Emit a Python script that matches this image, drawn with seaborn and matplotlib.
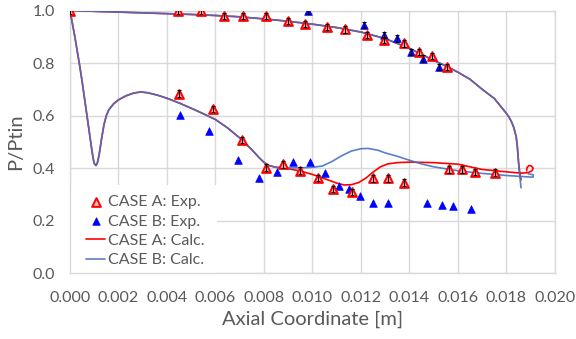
import numpy as np
import pandas as pd
import matplotlib
matplotlib.use("Agg")
import matplotlib.pyplot as plt
from matplotlib.patches import Rectangle
import seaborn as sns

# ---------------- data ----------------
expA_x = [0.0, 0.00447, 0.0054, 0.00636, 0.00715, 0.00808, 0.00898, 0.0097, 0.01059, 0.01134,
          0.01223, 0.01295, 0.01377, 0.0144, 0.01491, 0.01556,
          0.00451, 0.00591, 0.00709, 0.00808, 0.0088, 0.0095, 0.01024, 0.01086, 0.01164,
          0.01248, 0.0131, 0.01377, 0.01564, 0.01615, 0.0167, 0.01753]
expA_y = [1.0, 1.0, 0.997, 0.98, 0.98, 0.978, 0.96, 0.948, 0.937, 0.928,
          0.906, 0.887, 0.875, 0.843, 0.826, 0.786,
          0.684, 0.624, 0.507, 0.402, 0.414, 0.391, 0.363, 0.321, 0.31,
          0.361, 0.361, 0.345, 0.395, 0.395, 0.386, 0.383]

expB_x = [0.00983, 0.01212, 0.01295, 0.01347, 0.01405, 0.01457, 0.01523,
          0.00452, 0.00575, 0.00693, 0.00781, 0.00852, 0.00918, 0.00988, 0.01052, 0.01111,
          0.01152, 0.01196, 0.01248, 0.01313, 0.01471, 0.01535, 0.01578, 0.01652]
expB_y = [0.998, 0.944, 0.906, 0.894, 0.843, 0.817, 0.786,
          0.602, 0.543, 0.431, 0.361, 0.386, 0.424, 0.424, 0.383, 0.332,
          0.32, 0.294, 0.268, 0.268, 0.268, 0.26, 0.256, 0.243]

# calculated wall-pressure contours (upper branch right->left, then lower branch left->right)
calcA_x = [0.0186, 0.01855, 0.0185, 0.01845, 0.0184, 0.0183, 0.0182, 0.0181, 0.018, 0.0175,
           0.017, 0.0165, 0.016, 0.0155, 0.015, 0.014, 0.013, 0.012, 0.011, 0.010, 0.009,
           0.008, 0.007, 0.006, 0.005, 0.004, 0.003, 0.002, 0.001, 0.0,
           0.0001, 0.0002, 0.0003, 0.0004, 0.0005, 0.0006, 0.0007, 0.0008, 0.0009, 0.00095,
           0.001, 0.00107, 0.00113, 0.0012, 0.0013, 0.0014, 0.0015, 0.0016, 0.0018, 0.002,
           0.0023, 0.0026, 0.0029, 0.0032, 0.0036, 0.004, 0.0045, 0.005, 0.0055, 0.006,
           0.0065, 0.007, 0.0075, 0.0078, 0.008, 0.0082, 0.0085, 0.0087,
           0.009, 0.0095, 0.010, 0.0105, 0.011, 0.0113, 0.0116, 0.0119, 0.0122, 0.0125,
           0.0128, 0.0131, 0.0135, 0.014, 0.015, 0.016, 0.0165, 0.017, 0.018, 0.0186,
           0.0189, 0.01905, 0.0191, 0.01903, 0.01893, 0.01885, 0.01883]
calcA_y = [0.355, 0.38, 0.42, 0.48, 0.52, 0.555, 0.578, 0.595, 0.608, 0.665,
           0.70, 0.738, 0.765, 0.789, 0.81, 0.856, 0.893, 0.918, 0.935, 0.948, 0.959,
           0.968, 0.976, 0.981, 0.985, 0.988, 0.991, 0.994, 0.997, 1.0,
           0.95, 0.90, 0.845, 0.79, 0.73, 0.665, 0.60, 0.535, 0.47, 0.44,
           0.418, 0.41, 0.42, 0.45, 0.51, 0.565, 0.60, 0.622, 0.645, 0.66,
           0.675, 0.685, 0.69, 0.687, 0.678, 0.666, 0.648, 0.628, 0.607, 0.585,
           0.553, 0.515, 0.47, 0.44, 0.422, 0.41, 0.403, 0.402,
           0.398, 0.389, 0.376, 0.36, 0.343, 0.336, 0.337, 0.345, 0.362, 0.385,
           0.405, 0.416, 0.421, 0.423, 0.421, 0.415, 0.405, 0.395, 0.386, 0.381,
           0.383, 0.39, 0.40, 0.408, 0.41, 0.403, 0.39]

calcB_x = [0.0186, 0.01855, 0.0185, 0.01845, 0.0184, 0.0183, 0.0182, 0.0181, 0.018, 0.0175,
           0.017, 0.0165, 0.016, 0.0155, 0.015, 0.014, 0.013, 0.012, 0.011, 0.010, 0.009,
           0.008, 0.007, 0.006, 0.005, 0.004, 0.003, 0.002, 0.001, 0.0,
           0.0001, 0.0002, 0.0003, 0.0004, 0.0005, 0.0006, 0.0007, 0.0008, 0.0009, 0.00095,
           0.001, 0.00107, 0.00113, 0.0012, 0.0013, 0.0014, 0.0015, 0.0016, 0.0018, 0.002,
           0.0023, 0.0026, 0.0029, 0.0032, 0.0036, 0.004, 0.0045, 0.005, 0.0055, 0.006,
           0.0065, 0.007, 0.0075, 0.0078, 0.008, 0.0082, 0.0085, 0.0087,
           0.009, 0.0095, 0.010, 0.0104, 0.0108, 0.0112, 0.0116, 0.012, 0.0123, 0.0127,
           0.013, 0.0135, 0.014, 0.0145, 0.015, 0.016, 0.017, 0.018, 0.019, 0.0191,
           0.0191, 0.0189]
calcB_y = [0.325, 0.37, 0.42, 0.48, 0.52, 0.555, 0.578, 0.595, 0.608, 0.665,
           0.70, 0.738, 0.765, 0.789, 0.81, 0.856, 0.893, 0.918, 0.935, 0.948, 0.959,
           0.968, 0.976, 0.981, 0.985, 0.988, 0.991, 0.994, 0.997, 1.0,
           0.95, 0.90, 0.845, 0.79, 0.73, 0.665, 0.60, 0.535, 0.47, 0.44,
           0.418, 0.41, 0.42, 0.45, 0.51, 0.565, 0.60, 0.622, 0.645, 0.66,
           0.675, 0.685, 0.69, 0.687, 0.678, 0.666, 0.648, 0.628, 0.607, 0.585,
           0.553, 0.515, 0.47, 0.44, 0.422, 0.41, 0.403, 0.402,
           0.401, 0.401, 0.403, 0.408, 0.425, 0.447, 0.465, 0.474, 0.475, 0.468,
           0.458, 0.445, 0.43, 0.416, 0.405, 0.39, 0.38, 0.372, 0.366, 0.366,
           0.375, 0.378]

x_ticks = [0.000, 0.002, 0.004, 0.006, 0.008, 0.010, 0.012, 0.014, 0.016, 0.018, 0.020]
y_ticks = [0.0, 0.2, 0.4, 0.6, 0.8, 1.0]
labels = ["CASE A: Exp.", "CASE B: Exp.", "CASE A: Calc.", "CASE B: Calc."]

# ---------------- style ----------------
sns.set_style("white")
plt.rcParams["font.family"] = ["Lato", "DejaVu Sans"]
TXT = "#595959"
GRID = "#d9d9d9"

fig = plt.figure(figsize=(5.76, 3.39), dpi=100)
ax = fig.add_axes([0.1215, 0.194, 0.842, 0.775])

dfA = pd.DataFrame({"x": calcA_x, "y": calcA_y})
dfB = pd.DataFrame({"x": calcB_x, "y": calcB_y})
sns.lineplot(data=dfA, x="x", y="y", sort=False, estimator=None, color="#ff0000",
             lw=1.2, ax=ax, label=labels[2], zorder=3)
sns.lineplot(data=dfB, x="x", y="y", sort=False, estimator=None, color="#4472c4",
             lw=1.2, ax=ax, label=labels[3], zorder=3, alpha=0.9)

eA = pd.DataFrame({"x": expA_x, "y": expA_y})
eB = pd.DataFrame({"x": expB_x, "y": expB_y})
sns.scatterplot(data=eB, x="x", y="y", marker="^", s=30, color="#0000ff", edgecolor="#0000ff",
                linewidth=0.5, ax=ax, label=labels[1], zorder=4)
sns.scatterplot(data=eA, x="x", y="y", marker="^", s=40, facecolor="#ffb3b3", edgecolor="#ff0000",
                linewidth=1.4, ax=ax, label=labels[0], zorder=5)

# small black error bars on experimental points
ax.errorbar(expA_x, expA_y, yerr=0.012, fmt="none", ecolor="black", elinewidth=0.8,
            capsize=1.5, capthick=0.8, zorder=6)
bu = eB[eB["y"] > 0.7]
ax.errorbar(bu["x"], bu["y"], yerr=0.012, fmt="none", ecolor="black", elinewidth=0.8,
            capsize=1.5, capthick=0.8, zorder=6)

ax.set_xlim(0, 0.020)
ax.set_ylim(0, 1.0)
ax.set_xticks(x_ticks)
ax.set_xticklabels([f"{t:.3f}" for t in x_ticks])
ax.set_yticks(y_ticks)
ax.set_yticklabels([f"{t:.1f}" for t in y_ticks])
ax.grid(True, color=GRID, lw=1.0, zorder=0)
ax.set_axisbelow(True)
for s in ax.spines.values():
    s.set_visible(True)
    s.set_color(GRID)
    s.set_linewidth(1.0)
ax.tick_params(axis="both", colors=TXT, labelsize=11.5, length=0)
ax.tick_params(axis="x", pad=13)
ax.tick_params(axis="y", pad=11)
ax.set_xlabel("Axial Coordinate [m]", color=TXT, fontsize=14.5, labelpad=4)
ax.set_ylabel("P/Ptin", color=TXT, fontsize=14.5, labelpad=6)

# white legend background covering the grid in the lower-left corner
ax.add_patch(Rectangle((0.0, 0.0), 0.303, 0.336, transform=ax.transAxes,
                       facecolor="white", edgecolor="none", zorder=1))

h, l = ax.get_legend_handles_labels()
order = [l.index(lab) for lab in labels]
leg = ax.legend([h[i] for i in order], [l[i] for i in order], loc="lower left",
                bbox_to_anchor=(0.033, 0.022), borderaxespad=0.0, borderpad=0.0,
                frameon=False, fontsize=11.5, handlelength=1.2, handletextpad=0.15,
                labelspacing=0.33)
for t in leg.get_texts():
    t.set_color(TXT)
leg.set_zorder(10)

fig.savefig("out.png", dpi=100)
